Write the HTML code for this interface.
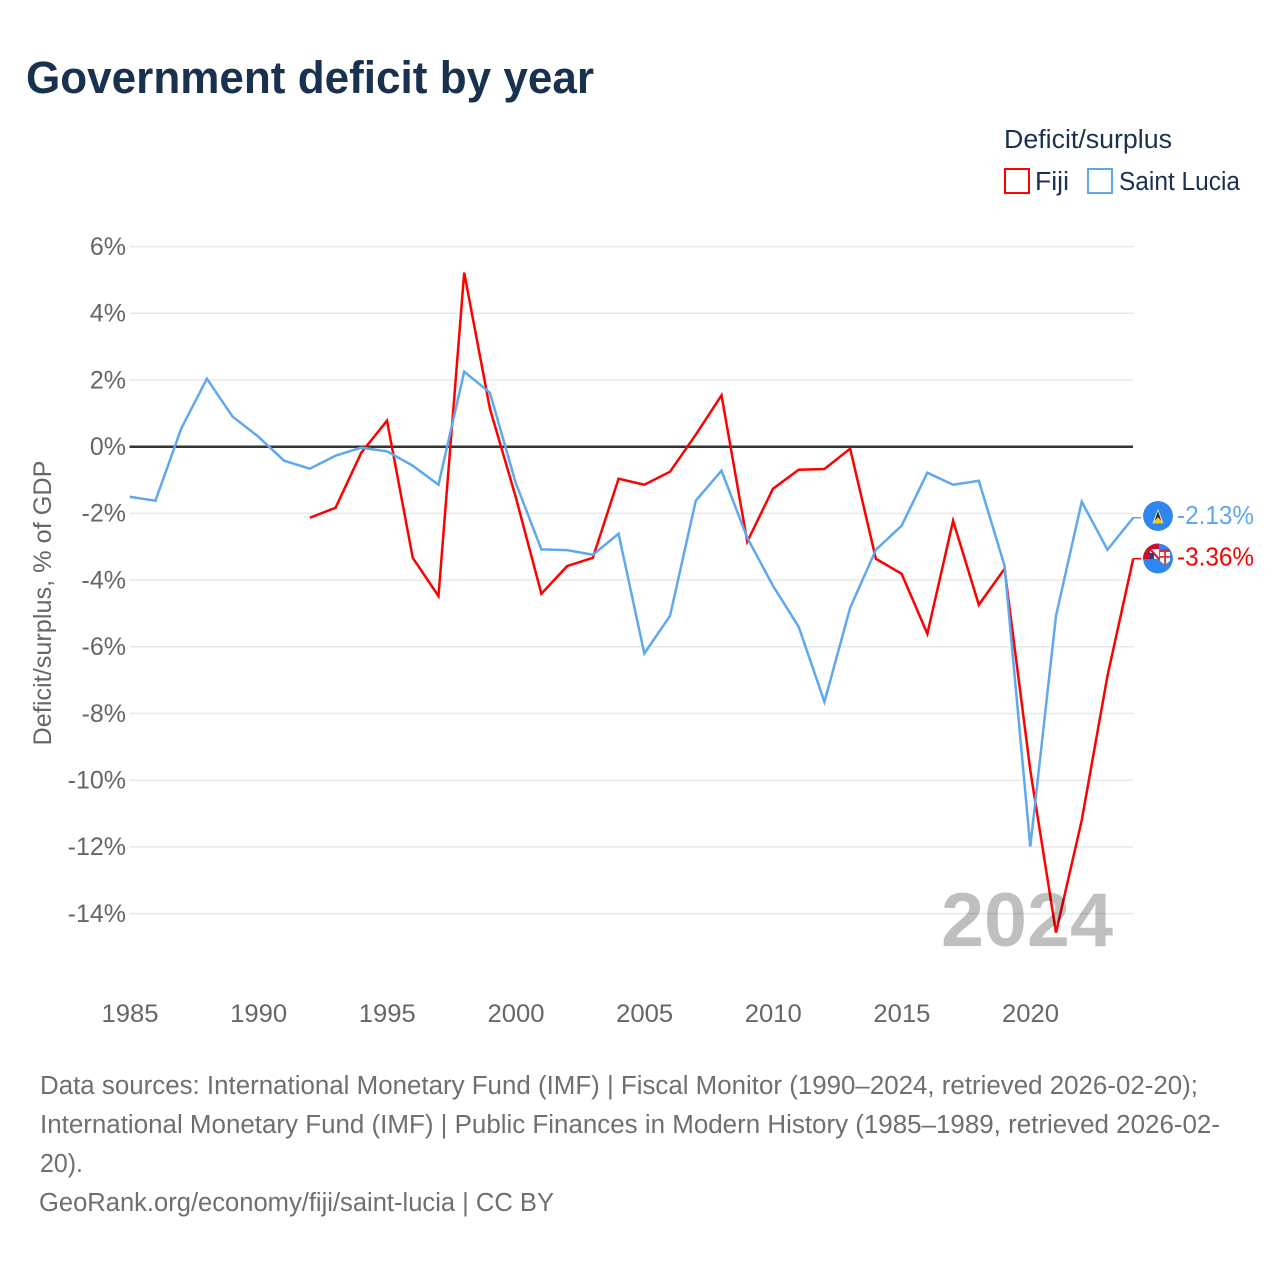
<!DOCTYPE html>
<html lang="en">
<head>
<meta charset="utf-8">
<title>Government deficit by year</title>
<style>
html,body{margin:0;padding:0;background:#fff;width:1280px;height:1280px;overflow:hidden}
svg{display:block}
text{font-family:"Liberation Sans",sans-serif}
</style>
</head>
<body>
<svg id="chart" xmlns="http://www.w3.org/2000/svg" width="1280" height="1280" viewBox="0 0 1280 1280">
  <defs>
    <clipPath id="clip-lucia"><circle cx="1158" cy="516" r="15"/></clipPath>
    <clipPath id="clip-fiji"><circle cx="1158" cy="558.5" r="15"/></clipPath>
  </defs>
  <rect width="1280" height="1280" fill="#fff"/>
  <text x="26" y="93" font-size="45" font-weight="700" fill="#18314f" textLength="568" lengthAdjust="spacingAndGlyphs">Government deficit by year</text>

  <g>
    <text x="1004" y="148" font-size="25.5" fill="#1a3050" textLength="168" lengthAdjust="spacingAndGlyphs">Deficit/surplus</text>
    <g>
      <rect x="1005" y="169" width="24" height="24" fill="#fff" stroke="#ff0000" stroke-width="2"/>
      <text x="1035" y="190" font-size="25.5" fill="#1a3050" textLength="34" lengthAdjust="spacingAndGlyphs">Fiji</text>
    </g>
    <g>
      <rect x="1088" y="169" width="24" height="24" fill="#fff" stroke="#5fa8ee" stroke-width="2"/>
      <text x="1119" y="190" font-size="25.5" fill="#1a3050" textLength="121" lengthAdjust="spacingAndGlyphs">Saint Lucia</text>
    </g>
  </g>

  <g id="grid"></g>
  <g id="y-ticks"></g>
  <g id="x-ticks"></g>
  <text transform="translate(51,603) rotate(-90)" text-anchor="middle" font-size="25" fill="#666" textLength="285" lengthAdjust="spacingAndGlyphs">Deficit/surplus, % of GDP</text>
  <g id="series"></g>
  <g id="end-labels"></g>

  <g clip-path="url(#clip-lucia)">
    <circle cx="1158" cy="516" r="15" fill="#2f86ee"/>
    <polygon points="1158,509 1163.5,523.5 1152.5,523.5" fill="#f4f4f4"/>
    <polygon points="1158,511 1162,523 1154,523" fill="#222"/>
    <polygon points="1158,517 1163.5,523.5 1152.5,523.5" fill="#f5c92e"/>
  </g>
  <g clip-path="url(#clip-fiji)">
    <circle cx="1158" cy="558.5" r="15" fill="#2f86ee"/>
    <rect x="1143" y="543" width="16" height="16" fill="#c8102e"/>
    <rect x="1150" y="549" width="9" height="10" fill="#f3f3f8"/>
    <rect x="1150" y="553" width="4" height="6" fill="#2b3f86"/>
    <line x1="1150" y1="549" x2="1159" y2="559" stroke="#c8102e" stroke-width="2"/>
    <path d="M1160 549h10v12l-5 4l-5-4z" fill="#f4f4f4"/>
    <rect x="1160" y="549" width="10" height="3" fill="#d8303a"/>
    <rect x="1160" y="556" width="10" height="1.8" fill="#e0303a"/>
    <rect x="1164.2" y="552" width="1.8" height="13" fill="#e0303a"/>
  </g>

  <text x="941" y="946" font-size="76" font-weight="700" fill="#000" fill-opacity="0.25" textLength="172" lengthAdjust="spacingAndGlyphs">2024</text>

  <g font-size="25.5" fill="#6f6f6f">
    <text x="40" y="1094" textLength="1158" lengthAdjust="spacingAndGlyphs">Data sources: International Monetary Fund (IMF) | Fiscal Monitor (1990–2024, retrieved 2026-02-20);</text>
    <text x="40" y="1133" textLength="1180" lengthAdjust="spacingAndGlyphs">International Monetary Fund (IMF) | Public Finances in Modern History (1985–1989, retrieved 2026-02-</text>
    <text x="40" y="1172" textLength="43" lengthAdjust="spacingAndGlyphs">20).</text>
    <text x="39" y="1211" textLength="515" lengthAdjust="spacingAndGlyphs">GeoRank.org/economy/fiji/saint-lucia | CC BY</text>
  </g>
</svg>
<script>
const years = [1985,1986,1987,1988,1989,1990,1991,1992,1993,1994,1995,1996,1997,1998,1999,2000,2001,2002,2003,2004,2005,2006,2007,2008,2009,2010,2011,2012,2013,2014,2015,2016,2017,2018,2019,2020,2021,2022,2023,2024];
const fijiValues = [null,null,null,null,null,null,null,-2.13,-1.83,-0.18,0.78,-3.33,-4.48,5.22,1.14,-1.5,-4.41,-3.58,-3.33,-0.96,-1.14,-0.75,0.36,1.54,-2.85,-1.26,-0.69,-0.67,-0.06,-3.36,-3.81,-5.61,-2.22,-4.74,-3.66,-9.7,-14.57,-11.2,-6.87,-3.36];
const saintLuciaValues = [-1.5,-1.62,0.54,2.04,0.9,0.3,-0.42,-0.66,-0.27,-0.03,-0.14,-0.57,-1.14,2.25,1.62,-1.08,-3.08,-3.1,-3.24,-2.61,-6.2,-5.07,-1.62,-0.72,-2.73,-4.17,-5.4,-7.65,-4.83,-3.09,-2.37,-0.78,-1.14,-1.02,-3.57,-11.99,-5.07,-1.65,-3.09,-2.13];
const yTickValues = [6,4,2,0,-2,-4,-6,-8,-10,-12,-14];
const xTickYears = [1985,1990,1995,2000,2005,2010,2015,2020];

const NS = 'http://www.w3.org/2000/svg';
const xScale = function (year) { return 129.7 + (year - 1985) * (1133.2 - 129.7) / 39; };
const yScale = function (value) { return 446.7 - value * 33.35; };

function make(tag, parent, attrs, content) {
  const el = document.createElementNS(NS, tag);
  for (const k in attrs) el.setAttribute(k, attrs[k]);
  if (content !== undefined) el.textContent = content;
  parent.appendChild(el);
  return el;
}

const gridGroup = document.getElementById('grid');
const yTickGroup = document.getElementById('y-ticks');
const xTickGroup = document.getElementById('x-ticks');
const seriesGroup = document.getElementById('series');
const endGroup = document.getElementById('end-labels');

yTickValues.forEach(function (v) {
  const gridLine = make('line', gridGroup, {x1: 129.5, x2: 1133, y1: yScale(v), y2: yScale(v), stroke: v === 0 ? '#333333' : '#e8e8e8', 'stroke-width': v === 0 ? 2.5 : 1.5});
  
  
  const tickLabel = make('text', yTickGroup, {x: 126, y: yScale(v) + 8.3, 'text-anchor': 'end', 'font-size': 25, fill: '#666'}, v + '%');
  
  
});

xTickYears.forEach(function (yr) {
  const tickLabel = make('text', xTickGroup, {x: xScale(yr) + 0.3, y: 1022, 'text-anchor': 'middle', 'font-size': 25, fill: '#666', textLength: 57, lengthAdjust: 'spacingAndGlyphs'}, String(yr));
  
  
});

function drawSeries(values, color, seriesName) {
  const pts = [];
  values.forEach(function (v, i) {
    if (v !== null) pts.push(xScale(years[i]).toFixed(2) + ',' + yScale(v).toFixed(2));
  });
  const line = make('polyline', seriesGroup, {points: pts.join(' '), fill: 'none', stroke: color, 'stroke-width': 2.5, 'stroke-linejoin': 'miter'});
  
  

  const last = values[values.length - 1];
  const lastY = yScale(last);
  const connector = make('line', seriesGroup, {x1: 1133, x2: 1141, y1: lastY, y2: lastY, stroke: color, 'stroke-width': 1.5});
  
  
  const label = make('text', endGroup, {x: 1177, y: lastY + 6.5, 'font-size': 25.5, fill: color, textLength: 77, lengthAdjust: 'spacingAndGlyphs'}, last.toFixed(2) + '%');
  
  
}

drawSeries(fijiValues, '#ff0000', 'fiji');
drawSeries(saintLuciaValues, '#5fa8ee', 'saint-lucia');
</script>
</body>
</html>
